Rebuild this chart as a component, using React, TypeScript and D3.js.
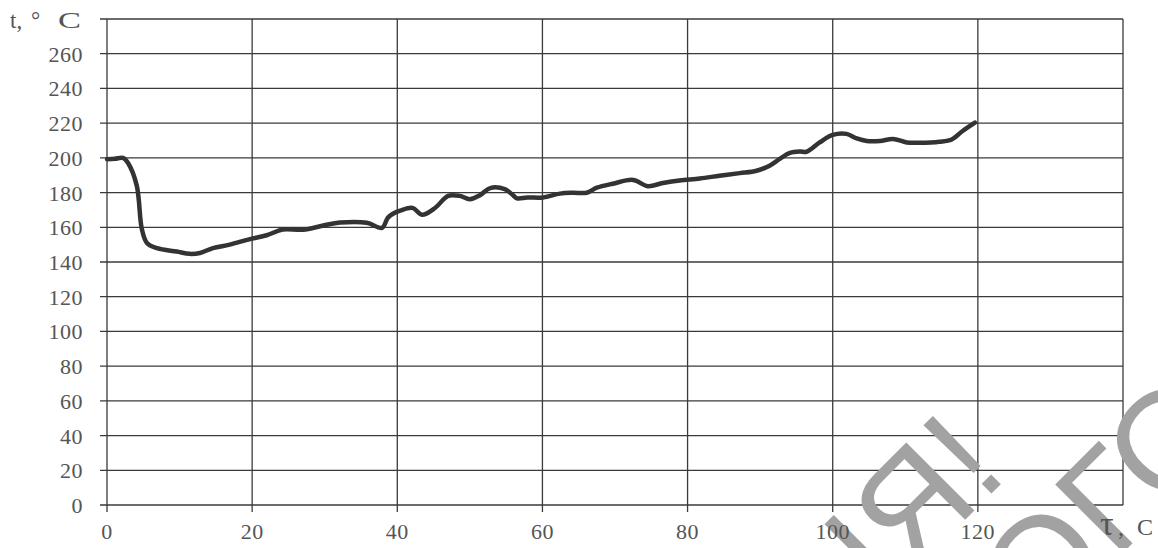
import React from 'react';
import * as d3 from 'd3';

// time, s
const times = [0, 1.1, 2.2, 2.9, 4.1, 4.8, 5.5, 6.9, 9.6, 11.4, 12.8, 14.6, 16.9, 19.7, 22.0, 24.2, 27.0, 29.8, 32.1, 35.8, 37.9, 38.7, 39.4, 40.4, 42.1, 43.4, 45.2, 47.0, 48.6, 50.0, 51.4, 52.8, 54.8, 55.8, 56.5, 57.9, 60.1, 62.4, 64.2, 66.1, 67.5, 69.7, 72.5, 74.5, 76.6, 78.9, 81.7, 84.4, 87.2, 89.5, 91.3, 92.7, 94.1, 95.5, 96.4, 98.2, 100.0, 101.9, 103.3, 104.7, 106.5, 108.3, 110.2, 112.0, 114.7, 116.4, 117.9, 119.6];
// temperature, °C
const temps = [199.2, 199.5, 200, 197, 184, 159, 151, 148, 146, 144.7, 145.2, 148, 150, 153.2, 155.4, 158.7, 158.6, 161, 162.7, 162.6, 159.7, 165.5, 167.8, 169.6, 171.2, 167.2, 171.1, 178.1, 178.1, 176.2, 178.5, 182.6, 182, 179, 176.7, 177.2, 177.2, 179.4, 179.9, 179.9, 182.8, 185.1, 187.3, 183.7, 185.5, 187, 188.1, 189.7, 191.2, 192.6, 195.5, 199.4, 202.9, 203.7, 203.5, 208.9, 213.2, 213.8, 211.2, 209.7, 209.7, 210.9, 208.9, 208.7, 209.3, 210.6, 215.5, 220.3];

const xTicks = [0, 20, 40, 60, 80, 100, 120, 140];
const xLabels = ['0', '20', '40', '60', '80', '100', '120'];
const yTicks = [0, 20, 40, 60, 80, 100, 120, 140, 160, 180, 200, 220, 240, 260, 280];
const yLabels = ['0', '20', '40', '60', '80', '100', '120', '140', '160', '180', '200', '220', '240', '260'];

const W = 1158;
const H = 548;

export default function App() {
  const x = d3.scaleLinear().domain([0, 140]).range([107, 1123]);
  const y = d3.scaleLinear().domain([0, 280]).range([505, 19]);
  const line = d3
    .line<number>()
    .x((_, i) => x(times[i]))
    .y((d) => y(d))
    .curve(d3.curveCatmullRom.alpha(0.5));

  const gridColor = '#3a3a3a';
  const textColor = '#555';
  const serif = '"Liberation Serif", "DejaVu Serif", serif';

  return (
    <svg
      width={W}
      height={H}
      style={{ position: 'absolute', left: 0, top: 0, background: '#fff' }}
    >
      {/* horizontal grid */}
      {yTicks.map((t) => (
        <line
          key={'h' + t}
          x1={100}
          x2={x(140)}
          y1={y(t)}
          y2={y(t)}
          stroke={gridColor}
          strokeWidth={1.3}
        />
      ))}
      {/* vertical grid */}
      {xTicks.map((t) => (
        <line
          key={'v' + t}
          x1={x(t)}
          x2={x(t)}
          y1={y(280)}
          y2={t === 140 ? y(0) : y(0) + 7}
          stroke={gridColor}
          strokeWidth={1.3}
        />
      ))}
      {/* curve */}
      <path
        d={line(temps) || ''}
        fill="none"
        stroke="#333"
        strokeWidth={4.5}
        strokeLinejoin="round"
        strokeLinecap="round"
      />
      {/* watermark */}
      <g
        transform="rotate(-45, 1010, 475)"
        fontFamily='"Liberation Sans", Arial, sans-serif'
        fontSize={140}
        fill="#a2a2a2"
      >
        <text x={1010} y={475} textAnchor="end">
          ВЕРСІЯ!
        </text>
        <text x={1010 - 95} y={475 + 135}>
          ОГО
        </text>
      </g>
      {/* y labels */}
      {yLabels.map((l, i) => (
        <text
          key={'yl' + l}
          x={83}
          y={y(yTicks[i]) + 8}
          textAnchor="end"
          fontFamily={serif}
          fontSize={22}
          fill={textColor}
          letterSpacing={0.5}
        >
          {l}
        </text>
      ))}
      {/* x labels */}
      {xLabels.map((l, i) => (
        <text
          key={'xl' + l}
          x={x(xTicks[i])}
          y={539}
          textAnchor="middle"
          fontFamily={serif}
          fontSize={22}
          fill={textColor}
          letterSpacing={0.5}
        >
          {l}
        </text>
      ))}
      {/* axis titles */}
      <text x={10} y={28} fontFamily={serif} fontSize={23} fill={textColor}>
        t,
      </text>
      <text x={31} y={28} fontFamily={serif} fontSize={23} fill={textColor}>
        °
      </text>
      <text
        x={0}
        y={28}
        transform="translate(58,0) scale(1.5,1)"
        fontFamily={serif}
        fontSize={23}
        fill={textColor}
      >
        C
      </text>
      <text x={1100} y={535} fontFamily={serif} fontSize={34} fill={textColor}>
        τ
      </text>
      <text x={1118} y={535} fontFamily={serif} fontSize={24} fill={textColor}>
        ,
      </text>
      <text x={1137} y={535} fontFamily={serif} fontSize={24} fill={textColor}>
        C
      </text>
    </svg>
  );
}
